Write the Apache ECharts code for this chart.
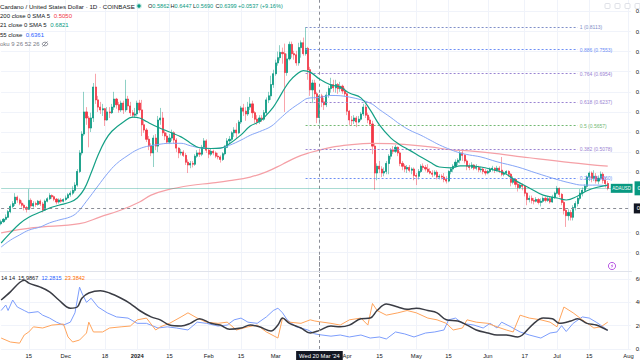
<!DOCTYPE html>
<html><head><meta charset="utf-8">
<script src="https://cdn.jsdelivr.net/npm/echarts@6/dist/echarts.min.js"></script>
<style>html,body{margin:0;padding:0;background:#fff;overflow:hidden}#c{width:640px;height:360px}</style>
</head><body><div id="c"></div>
<script>
// ---------- DATA ----------
const startUTC = Date.UTC(2023, 10, 3);   // first category: 3 Nov 2023
const nCats = 274;                          // categories through 2 Aug 2024
const firstOpen = 0.322;
const closes = [
.327,.333,.338,.352,.365,.372,.388,.381,.373,.368,.362,.358,.380,.366,.372,.370,.378,.371,.356,.378,
.384,.392,.389,.383,.376,.381,.378,.382,.386,.394,.398,.405,.418,.452,.498,.545,.600,.585,.560,.585,
.662,.630,.612,.605,.608,.580,.600,.598,.612,.632,.618,.605,.622,.605,.632,.615,.598,.592,.595,.622,
.605,.568,.555,.532,.515,.498,.535,.515,.580,.585,.548,.540,.525,.535,.548,.530,.510,.498,.500,.492,
.475,.468,.472,.470,.490,.498,.495,.512,.528,.505,.495,.502,.498,.490,.488,.482,.496,.512,.528,.532,
.548,.555,.548,.575,.610,.602,.595,.612,.620,.598,.582,.576,.585,.582,.598,.630,.640,.668,.695,.722,
.735,.748,.745,.698,.732,.768,.745,.742,.722,.760,.772,.745,.758,.705,.655,.672,.645,.5862,.6399,.625,
.618,.642,.658,.668,.660,.668,.658,.664,.652,.645,.602,.580,.578,.585,.575,.582,.595,.612,.592,.580,
.570,.515,.448,.465,.458,.448,.452,.472,.490,.505,.502,.512,.498,.472,.465,.458,.462,.455,.458,.442,
.440,.452,.465,.462,.458,.452,.448,.445,.450,.438,.440,.438,.432,.428,.452,.458,.465,.475,.480,.498,
.492,.478,.465,.462,.468,.460,.462,.456,.458,.452,.448,.452,.458,.460,.455,.460,.455,.445,.448,.452,
.445,.425,.432,.420,.412,.418,.415,.398,.382,.385,.380,.378,.382,.375,.378,.385,.380,.384,.376,.388,
.398,.410,.395,.375,.355,.342,.350,.338,.362,.372,.385,.398,.405,.415,.438,.448,.435,.440,.428,.435,
.445,.430,.422,.410];
const highs = [
.332,.336,.345,.356,.370,.378,.398,.392,.385,.380,.372,.366,.408,.385,.378,.377,.381,.382,.376,.382,
.388,.398,.395,.392,.386,.385,.386,.385,.392,.398,.404,.415,.425,.458,.505,.552,.650,.612,.590,.598,
.672,.695,.640,.625,.620,.610,.612,.612,.620,.650,.635,.625,.628,.628,.680,.640,.625,.605,.610,.628,
.630,.630,.580,.560,.540,.522,.542,.545,.590,.610,.600,.555,.548,.545,.556,.552,.535,.512,.508,.505,
.498,.482,.478,.478,.495,.505,.508,.518,.535,.532,.510,.508,.506,.502,.498,.492,.500,.518,.535,.540,
.552,.562,.572,.580,.615,.620,.612,.625,.637,.628,.602,.592,.592,.592,.605,.636,.650,.690,.705,.730,
.750,.766,.760,.770,.745,.775,.775,.752,.752,.772,.778,.785,.811,.762,.712,.680,.680,.650,.6447,.645,
.635,.650,.665,.685,.680,.680,.672,.675,.668,.660,.648,.605,.590,.592,.590,.590,.600,.620,.618,.598,
.588,.578,.522,.472,.478,.465,.462,.478,.495,.510,.515,.518,.514,.502,.478,.470,.468,.468,.462,.462,
.448,.458,.470,.472,.468,.470,.460,.455,.455,.455,.445,.445,.448,.440,.455,.462,.470,.482,.485,.505,
.505,.495,.482,.472,.475,.470,.470,.466,.464,.462,.458,.456,.462,.466,.462,.466,.465,.488,.452,.455,
.455,.448,.440,.435,.428,.422,.422,.418,.400,.392,.392,.386,.388,.386,.385,.390,.390,.390,.390,.394,
.402,.416,.412,.398,.380,.360,.358,.356,.368,.378,.390,.408,.412,.420,.442,.452,.452,.455,.448,.442,
.452,.450,.438,.428];
const lows = [
.318,.324,.330,.336,.348,.360,.366,.374,.368,.362,.355,.350,.356,.360,.362,.364,.367,.366,.350,.354,
.375,.381,.384,.378,.370,.372,.374,.375,.379,.384,.389,.393,.400,.414,.448,.492,.540,.568,.512,.550,
.575,.620,.600,.595,.590,.565,.578,.585,.595,.605,.608,.598,.600,.595,.600,.605,.590,.585,.585,.590,
.598,.540,.548,.525,.505,.490,.463,.505,.500,.568,.540,.530,.520,.520,.528,.522,.500,.485,.492,.488,
.468,.448,.460,.462,.466,.486,.488,.490,.508,.498,.485,.490,.492,.485,.482,.474,.478,.492,.510,.520,
.528,.538,.535,.545,.570,.590,.578,.590,.605,.585,.572,.568,.570,.575,.578,.592,.622,.630,.660,.690,
.715,.728,.720,.600,.690,.728,.735,.730,.715,.715,.735,.740,.740,.680,.640,.622,.630,.572,.5690,.612,
.605,.612,.635,.648,.650,.648,.645,.650,.645,.638,.592,.568,.565,.570,.562,.572,.578,.590,.585,.572,
.565,.495,.406,.430,.448,.438,.440,.445,.445,.482,.495,.498,.490,.465,.455,.450,.448,.450,.445,.430,
.418,.432,.448,.455,.452,.448,.445,.438,.440,.432,.432,.432,.425,.422,.425,.445,.450,.462,.468,.472,
.478,.472,.455,.455,.458,.455,.455,.450,.450,.445,.442,.445,.448,.452,.448,.452,.448,.440,.440,.445,
.438,.415,.420,.412,.402,.408,.405,.390,.368,.375,.372,.370,.375,.370,.365,.374,.375,.376,.372,.374,
.384,.395,.388,.368,.345,.314,.330,.330,.330,.355,.365,.380,.390,.400,.410,.428,.425,.428,.422,.420,
.430,.422,.412,.405];
// moving averages: [day index, value]
const sma21 = [[0,.274],[4,.299],[8,.322],[12,.338],[17,.351],[21,.361],[25,.368],[30,.376],[33,.386],[36,.408],[39,.448],[42,.492],[45,.528],[48,.552],[53,.575],[57,.587],[60,.585],[63,.576],[68,.562],[73,.550],[78,.538],[82,.523],[86,.511],[91,.509],[95,.510],[99,.521],[104,.543],[108,.565],[112,.576],[115,.592],[118,.612],[120,.630],[122,.650],[125,.676],[128,.693],[131,.703],[134,.699],[138,.6821],[143,.667],[147,.662],[151,.647],[156,.635],[160,.605],[164,.568],[169,.535],[173,.518],[177,.505],[182,.488],[186,.475],[190,.463],[195,.461],[199,.466],[203,.466],[208,.463],[212,.458],[218,.448],[224,.426],[229,.411],[235,.393],[241,.386],[245,.381],[250,.391],[254,.404],[258,.412],[263,.418]];
const sma55 = [[0,.264],[4,.281],[8,.294],[12,.306],[17,.314],[21,.324],[25,.331],[30,.339],[33,.350],[37,.378],[42,.416],[46,.446],[50,.471],[55,.492],[59,.506],[63,.514],[68,.519],[73,.522],[78,.522],[82,.516],[86,.511],[91,.509],[95,.510],[99,.517],[104,.530],[108,.542],[112,.551],[117,.564],[121,.584],[125,.604],[130,.624],[133,.634],[138,.6361],[143,.641],[151,.637],[160,.622],[164,.606],[169,.586],[173,.569],[177,.555],[182,.542],[186,.530],[190,.518],[195,.506],[199,.498],[203,.493],[208,.488],[215,.476],[224,.463],[232,.448],[241,.432],[247,.423],[252,.418],[258,.418],[263,.416]];
const sma200 = [[0,.299],[14,.312],[34,.322],[43,.339],[52,.356],[60,.376],[65,.393],[72,.406],[82,.417],[91,.423],[99,.429],[108,.438],[115,.451],[122,.470],[128,.487],[134,.499],[138,.5050],[143,.512],[151,.518],[160,.522],[169,.521],[177,.518],[186,.513],[195,.506],[203,.503],[212,.498],[229,.486],[247,.474],[263,.465]];
// DMI pane
const adx = [[0,42],[4,49],[8,57],[10,59],[12,56.5],[17,53],[21,49],[25,42],[30,35],[33,36],[35,43.5],[38,48],[43,50],[47,48],[52,43.5],[56,39],[60,33],[65,27.5],[69,25],[73,20.5],[78,19.7],[82,22],[86,26],[91,22],[95,20.5],[99,17],[104,18],[108,20.5],[112,19],[117,15.4],[120,20.5],[122,26.5],[125,22],[130,18],[134,13.7],[138,15.9867],[143,19.7],[147,19],[151,20.5],[156,26],[160,26.5],[163,33],[167,38.5],[172,36],[176,34],[180,35],[185,33],[189,31],[193,25],[198,24],[202,20.5],[206,16.3],[211,13.7],[215,12],[219,12],[224,10.3],[226,12],[231,22],[235,26.5],[239,26],[242,22],[247,24],[250,26],[254,22],[258,20.5],[261,18],[263,16]];
const plusDI = [[0,33],[2,37.7],[3,33],[5,42],[7,36],[10,33],[12,31],[16,32],[18,29],[21,26.5],[24,23],[27,20.5],[30,23],[32,31],[34,53],[35,48],[37,40],[39,43.5],[42,36],[46,31],[50,27.5],[55,26.5],[59,22],[63,22],[68,18],[72,19],[76,18],[81,16.3],[85,23],[89,22],[94,19.7],[98,20.5],[101,25],[104,26.5],[107,23],[111,22],[115,27.5],[118,33],[120,35],[122,31],[124,25],[128,19],[133,16.3],[136,13],[138,12.2815],[143,11],[147,12],[151,10.3],[156,12],[160,9.4],[164,10.3],[167,8.6],[171,14.6],[175,12.9],[179,10.3],[184,13.7],[188,14.6],[192,16.3],[194,25],[197,26.5],[200,22],[205,20.5],[209,18],[212,22],[215,18],[217,23],[221,19],[225,14.6],[229,12],[234,9.4],[238,13.7],[241,14.6],[243,20],[245,15],[248,22],[252,27.5],[255,26.5],[258,23],[261,19],[263,16]];
const minusDI = [[0,9.4],[4,6],[8,5],[10,12],[12,14.6],[14,19],[18,18],[22,20.5],[27,21.4],[29,10.3],[31,6],[34,7.7],[37,13.7],[38,23],[40,14.6],[44,14.6],[47,18],[52,19],[56,19.7],[59,25],[63,26.5],[67,16.3],[69,19],[73,22],[78,27.5],[81,31],[85,26.5],[89,23],[94,22],[98,23],[102,16.3],[107,19],[111,20.5],[115,14.6],[120,9.4],[122,26.5],[125,23],[130,22],[134,25],[136,24],[138,23.3842],[143,22],[147,20.5],[151,25],[156,26.5],[159,20.5],[161,39],[163,33],[167,29],[172,31],[176,33],[180,31],[185,26.5],[189,25],[193,22],[196,16.3],[200,18],[202,25],[206,23],[211,22],[215,19],[219,16.3],[222,14.6],[225,29],[229,26.5],[234,25],[238,23],[241,19],[244,36],[248,31],[252,25],[257,18],[260,19],[263,23]];
// Fibonacci retracement drawing
const fibRatios = [1, 0.886, 0.764, 0.618, 0.5, 0.382, 0.236];
const fibPrices = [0.8113, 0.7553, 0.6954, 0.6237, 0.5657, 0.5078, 0.4360];
const fibColors = ['#7f8fc8', '#6e8ff5', '#9a84d2', '#9a84d2', '#72b872', '#9a84d2', '#6e8ff5'];
const fibStart = '2024-03-14', fibEnd = '2024-07-10';
// crosshair
const crossDate = '2024-03-20', crossPrice = 0.36, crossLabel = "Wed 20 Mar '24";
// time axis ticks
const tickDates = ['2023-11-15','2023-12-01','2023-12-18','2024-01-01','2024-01-15','2024-02-01','2024-02-15','2024-03-01','2024-04-01','2024-04-15','2024-05-01','2024-05-15','2024-06-01','2024-06-17','2024-07-01','2024-07-15','2024-08-01'];
const tickLabels = ['15','Dec','18','2024','15','Feb','15','Mar','Apr','15','May','15','Jun','17','Jul','15','Aug'];
const gridExtraDates = ['2024-03-15'];
// price-axis labels hidden under the price tags
const coveredPriceLabels = ['0.4000', '0.3500'];

// ---------- BUILD ----------
const dates = [];
for (let i = 0; i < nCats; i++) dates.push(new Date(startUTC + i * 86400000).toISOString().slice(0, 10));
const labelMap = new Map(tickDates.map((d, k) => [d, tickLabels[k]]));
const gridSet = new Set(tickDates.concat(gridExtraDates));

const candleFull = closes.map((c, i) => {
  const o = i === 0 ? firstOpen : closes[i - 1];
  return [o, c, Math.min(lows[i], o, c), Math.max(highs[i], o, c)];
});
const candleBody = candleFull.map(d => [d[0], d[1], Math.min(d[0], d[1]), Math.max(d[0], d[1])]);
const lastClose = closes[closes.length - 1];
const ci = dates.indexOf(crossDate);
const cc = candleFull[ci];
const valAt = (arr, i) => { const p = arr.find(q => q[0] === i); return p ? p[1] : null; };

const FF = '"Liberation Sans", Arial, sans-serif';
const UP = '#089981', DN = '#f23645';
const dark = '#131722';

const fibData = fibRatios.map((r, k) => [
  { coord: [fibStart, fibPrices[k]], lineStyle: { color: fibColors[k], type: [2, 2], width: 1 },
    label: { show: true, position: 'end', distance: 2, formatter: r + ' (' + fibPrices[k].toFixed(4) + ')',
             color: fibColors[k], fontSize: 5, fontFamily: FF } },
  { coord: [fibEnd, fibPrices[k]] }
]);

const splitL = { show: true, interval: (i) => gridSet.has(dates[i]), lineStyle: { color: '#f0f3fa', width: 1 } };
const dash = { color: '#8a8d96', type: [3, 3], width: 1 };

const txt = (x, y, text, fill, size, rich) => ({
  type: 'text', x: x, y: y, silent: true, z: 100,
  style: { text: text, fill: fill, font: size + 'px ' + FF, verticalAlign: 'middle', align: 'left', rich: rich }
});
const richV = (col, size) => ({ v: { fill: col, color: col, font: size + 'px ' + FF, fontSize: size, fontFamily: FF } });

const ohlcKeys = ['O', 'H', 'L', 'C'];
const ohlcVals = [cc[0], cc[3], cc[2], cc[1]];
const chg = cc[1] - cc[0];
const ohlcX = [148, 170.5, 193, 215.5];

const graphics = [
  { type: 'line', shape: { x1: 0, y1: 271.5, x2: 632, y2: 271.5 }, style: { stroke: '#e0e3eb', lineWidth: 1 }, z: 90, silent: true },
  txt(0, 6, 'Cardano / United States Dollar · 1D · COINBASE', dark, 6.2),
  { type: 'circle', shape: { cx: 139, cy: 6, r: 3 }, style: { fill: 'rgba(8,153,129,0.2)' }, z: 100, silent: true },
  { type: 'circle', shape: { cx: 139, cy: 6, r: 1.7 }, style: { fill: UP }, z: 101, silent: true },
];
ohlcKeys.forEach((k, j) => graphics.push(txt(ohlcX[j], 6, k + '{v|' + ohlcVals[j].toFixed(4) + '}', dark, 5.6, richV(UP, 5.6))));
graphics.push(txt(238, 6, (chg >= 0 ? '+' : '') + chg.toFixed(4) + ' (' + (chg >= 0 ? '+' : '') + (chg / cc[0] * 100).toFixed(2) + '%)', UP, 5.6));
graphics.push(txt(0, 15.5, '200 close 0 SMA 5  {v|' + valAt(sma200, ci).toFixed(4) + '}', dark, 6, richV(DN, 6)));
graphics.push(txt(0, 25, '21 close 0 SMA 5  {v|' + valAt(sma21, ci).toFixed(4) + '}', dark, 6, richV(UP, 6)));
graphics.push(txt(0, 34.5, '55 close  {v|' + valAt(sma55, ci).toFixed(4) + '}', dark, 6, richV('#2962ff', 6)));
graphics.push(txt(0, 44, 'oku 9 26 52 26', '#787b86', 6));
graphics.push({ type: 'ellipse', shape: { cx: 45, cy: 44, rx: 2.8, ry: 1.8 }, style: { stroke: '#787b86', fill: 'none', lineWidth: 0.8 }, z: 100, silent: true });
graphics.push({ type: 'line', shape: { x1: 42.5, y1: 46.5, x2: 47.5, y2: 41.5 }, style: { stroke: '#787b86', lineWidth: 0.8 }, z: 100, silent: true });
graphics.push(txt(1, 278, '14 14  ' + valAt(adx, ci).toFixed(4) + '  {b|' + valAt(plusDI, ci).toFixed(4) + '}  {o|' + valAt(minusDI, ci).toFixed(4) + '}', dark, 5.6,
  { b: { fill: '#2962ff', font: '5.6px ' + FF }, o: { fill: '#ff6d00', font: '5.6px ' + FF } }));
graphics.push({ type: 'circle', shape: { cx: 612, cy: 266, r: 3.6 }, style: { fill: '#fff', stroke: '#b24be0', lineWidth: 0.9 }, z: 100, silent: true });
graphics.push({ type: 'polygon', shape: { points: [[612.8, 263.5], [610.8, 266.3], [612.1, 266.3], [611.3, 268.6], [613.3, 265.6], [612, 265.6]] }, style: { fill: '#b24be0' }, z: 101, silent: true });
// toolbar buttons, top right
[605, 615, 625, 635].forEach(x => graphics.push({ type: 'rect', shape: { x: x, y: 3.5, width: 5, height: 5, r: 1 }, style: { fill: '#fff', stroke: '#d1d4dc', lineWidth: 0.7 }, z: 100, silent: true }));

const option = {
  animation: false,
  backgroundColor: '#ffffff',
  textStyle: { fontFamily: FF },
  graphic: graphics,
  grid: [
    { left: 1.15, right: 9.2, top: -8.66, height: 281.4, containLabel: false, outerBoundsMode: 'none' },
    { left: 1.15, right: 9.2, top: 255.67, height: 93.33, containLabel: false, outerBoundsMode: 'none' }
  ],
  xAxis: [
    { type: 'category', gridIndex: 0, data: dates, boundaryGap: false,
      axisLine: { show: false }, axisTick: { show: false }, axisLabel: { show: false }, splitLine: splitL },
    { type: 'category', gridIndex: 1, data: dates, boundaryGap: false,
      axisLine: { show: false }, axisTick: { show: false },
      axisLabel: { show: true, interval: (i) => labelMap.has(dates[i]), margin: 3.5, fontSize: 5.8, color: dark, fontFamily: FF,
        formatter: (v) => { const l = labelMap.get(v) || ''; return l === '2024' ? '{b|2024}' : l; },
        rich: { b: { fontWeight: 'bold', fontSize: 5.8, color: dark, fontFamily: FF } } },
      splitLine: splitL }
  ],
  yAxis: [
    { type: 'value', gridIndex: 0, position: 'right', min: 0.2, max: 0.9, interval: 0.05,
      axisLine: { show: false }, axisTick: { show: false },
      axisLabel: { margin: 5, fontSize: 6, color: dark, fontFamily: FF, showMinLabel: false, showMaxLabel: false,
        formatter: (v) => { const s = v.toFixed(4); return coveredPriceLabels.includes(s) ? '' : s; } },
      splitLine: { show: true, lineStyle: { color: '#f0f3fa', width: 1 }, showMinLine: false, showMaxLine: false } },
    { type: 'value', gridIndex: 1, position: 'right', min: 0, max: 80, interval: 20,
      axisLine: { show: false }, axisTick: { show: false },
      axisLabel: { margin: 5, fontSize: 6, color: dark, fontFamily: FF, formatter: (v) => v.toFixed(4), showMaxLabel: false },
      splitLine: { show: true, lineStyle: { color: '#f0f3fa', width: 1 }, showMaxLine: false } }
  ],
  series: [
    { name: 'fib', type: 'line', xAxisIndex: 0, yAxisIndex: 0, data: [], silent: true, z: 1,
      markLine: { silent: true, symbol: ['none', 'none'], animation: false, data: fibData } },
    { name: 'wicks', type: 'candlestick', xAxisIndex: 0, yAxisIndex: 0, data: candleFull, barWidth: 1.6, silent: true, z: 2,
      itemStyle: { color: 'rgba(8,153,129,0.45)', color0: 'rgba(242,54,69,0.45)', borderColor: 'rgba(8,153,129,0.45)', borderColor0: 'rgba(242,54,69,0.45)', borderWidth: 1 } },
    { name: 'ADAUSD', type: 'candlestick', xAxisIndex: 0, yAxisIndex: 0, data: candleBody, barWidth: 1.6, silent: true, z: 3,
      itemStyle: { color: UP, color0: DN, borderColor: UP, borderColor0: DN, borderWidth: 0.5 },
      markLine: { silent: true, symbol: ['none', 'none'], animation: false, data: [
        { xAxis: crossDate, lineStyle: dash, label: { show: false } },
        { yAxis: crossPrice, lineStyle: dash, label: { show: true, position: 'end', distance: 3, formatter: crossPrice.toFixed(4), backgroundColor: dark, color: '#fff', fontSize: 6, padding: [2, 3], fontFamily: FF } },
        { yAxis: lastClose, lineStyle: { color: 'rgba(8,153,129,0.35)', type: 'solid', width: 1 },
          label: { show: true, position: 'end', distance: -20, fontFamily: FF,
            formatter: '{a|ADAUSD}{g| }{p|' + lastClose.toFixed(4) + '}',
            rich: {
              a: { backgroundColor: UP, color: '#fff', fontSize: 4.5, padding: [2, 1.5], fontFamily: FF },
              g: { fontSize: 4.5, width: 2 },
              p: { backgroundColor: UP, color: '#fff', fontSize: 6, padding: [4, 3], fontFamily: FF }
            } } }
      ] } },
    { name: 'SMA200', type: 'line', xAxisIndex: 0, yAxisIndex: 0, data: sma200, smooth: 0.4, showSymbol: false, silent: true, z: 4,
      lineStyle: { color: '#f5a0a6', width: 1.2 } },
    { name: 'SMA55', type: 'line', xAxisIndex: 0, yAxisIndex: 0, data: sma55, smooth: 0.4, showSymbol: false, silent: true, z: 4,
      lineStyle: { color: '#86a6f7', width: 1 } },
    { name: 'SMA21', type: 'line', xAxisIndex: 0, yAxisIndex: 0, data: sma21, smooth: 0.4, showSymbol: false, silent: true, z: 5,
      lineStyle: { color: '#14a085', width: 1.2 } },
    { name: '+DI', type: 'line', xAxisIndex: 1, yAxisIndex: 1, data: plusDI, showSymbol: false, silent: true, z: 3,
      lineStyle: { color: '#7c9dfc', width: 1 } },
    { name: '-DI', type: 'line', xAxisIndex: 1, yAxisIndex: 1, data: minusDI, showSymbol: false, silent: true, z: 3,
      lineStyle: { color: '#ffa45c', width: 1 } },
    { name: 'ADX', type: 'line', xAxisIndex: 1, yAxisIndex: 1, data: adx, smooth: 0.35, showSymbol: false, silent: true, z: 4,
      lineStyle: { color: '#3a3c44', width: 1.5 },
      markLine: { silent: true, symbol: ['none', 'none'], animation: false, data: [
        { xAxis: crossDate, lineStyle: dash, label: { show: true, position: 'start', distance: 2, formatter: crossLabel, backgroundColor: dark, color: '#fff', fontSize: 5.8, padding: [2, 3], fontFamily: FF } }
      ] } }
  ]
};
const chart = echarts.init(document.getElementById('c'), null, { renderer: 'svg', width: 640, height: 360 });
chart.setOption(option);
</script></body></html>
